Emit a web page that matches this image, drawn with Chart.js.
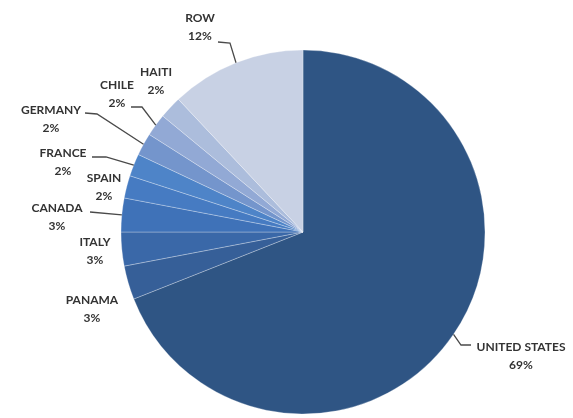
<!DOCTYPE html>
<html>
<head>
<meta charset="utf-8">
<script src="https://cdn.jsdelivr.net/npm/chart.js@4/dist/chart.umd.min.js"></script>
<style>
  html, body { margin: 0; padding: 0; background: #ffffff; }
  #wrap { width: 573px; height: 418px; position: relative; }
</style>
</head>
<body>
<div id="wrap"><canvas id="c" width="573" height="418"></canvas></div>
<script>
// ---- data ----
const categories = ["UNITED STATES", "PANAMA", "ITALY", "CANADA", "SPAIN", "FRANCE", "GERMANY", "CHILE", "HAITI", "ROW"];
const shares = [69, 3, 3, 3, 2, 2, 2, 2, 2, 12];
const shareLabels = ["69%", "3%", "3%", "3%", "2%", "2%", "2%", "2%", "2%", "12%"];

// ---- styling ----
const sliceColors = [
  "#2f5584", "#365f98", "#3a68a8", "#3f72b8", "#467bc2",
  "#4e84c8", "#7495cc", "#92a9d5", "#acbddc", "#c8d1e4"
];

// label layout: centre of name line; leader: elbow points from label towards arc edge
const labelLayout = [
  { x: 521, y: 347, leader: [[471, 345], [461, 345]] },
  { x: 92, y: 300 },
  { x: 95, y: 242 },
  { x: 57, y: 208, leader: [[90, 212]] },
  { x: 104, y: 178 },
  { x: 63, y: 153, leader: [[92, 157], [106, 157]] },
  { x: 51, y: 110, leader: [[85, 113], [97, 114]] },
  { x: 117, y: 85, leader: [[131, 107], [142, 107]] },
  { x: 156, y: 72 },
  { x: 200, y: 18, leader: [[218, 42], [230, 43]] }
];

const labelPlugin = {
  id: 'pieLabels',
  afterDatasetsDraw(chart) {
    const ctx = chart.ctx;
    const meta = chart.getDatasetMeta(0);
    ctx.save();
    meta.data.forEach((arc, i) => {
      const L = labelLayout[i];
      if (!L) return;
      const p = arc.getProps(['x', 'y', 'startAngle', 'endAngle', 'outerRadius'], true);
      const mid = (p.startAngle + p.endAngle) / 2;
      const ex = p.x + Math.cos(mid) * p.outerRadius;
      const ey = p.y + Math.sin(mid) * p.outerRadius;
      if (L.leader) {
        ctx.beginPath();
        ctx.strokeStyle = '#4a4a4a';
        ctx.lineWidth = 1.3;
        ctx.moveTo(L.leader[0][0], L.leader[0][1]);
        for (let k = 1; k < L.leader.length; k++) ctx.lineTo(L.leader[k][0], L.leader[k][1]);
        ctx.lineTo(ex, ey);
        ctx.stroke();
      }
      ctx.fillStyle = '#333333';
      ctx.textAlign = 'center';
      ctx.textBaseline = 'middle';
      ctx.font = 'bold 12px Lato, "Open Sans", sans-serif';
      ctx.fillText(categories[i], L.x, L.y);
      ctx.fillText(shareLabels[i], L.x, L.y + 18);
    });
    ctx.restore();
  }
};

new Chart(document.getElementById('c'), {
  type: 'pie',
  data: {
    labels: categories,
    datasets: [{
      data: shares,
      backgroundColor: sliceColors,
      borderColor: 'rgba(255,255,255,0.28)',
      borderWidth: 1
    }]
  },
  options: {
    responsive: false,
    animation: false,
    radius: 182,
    layout: { padding: { left: 121, right: 88, top: 50, bottom: 4 } },
    plugins: {
      legend: { display: false },
      tooltip: { enabled: false },
      title: { display: false }
    }
  },
  plugins: [labelPlugin]
});
</script>
</body>
</html>
